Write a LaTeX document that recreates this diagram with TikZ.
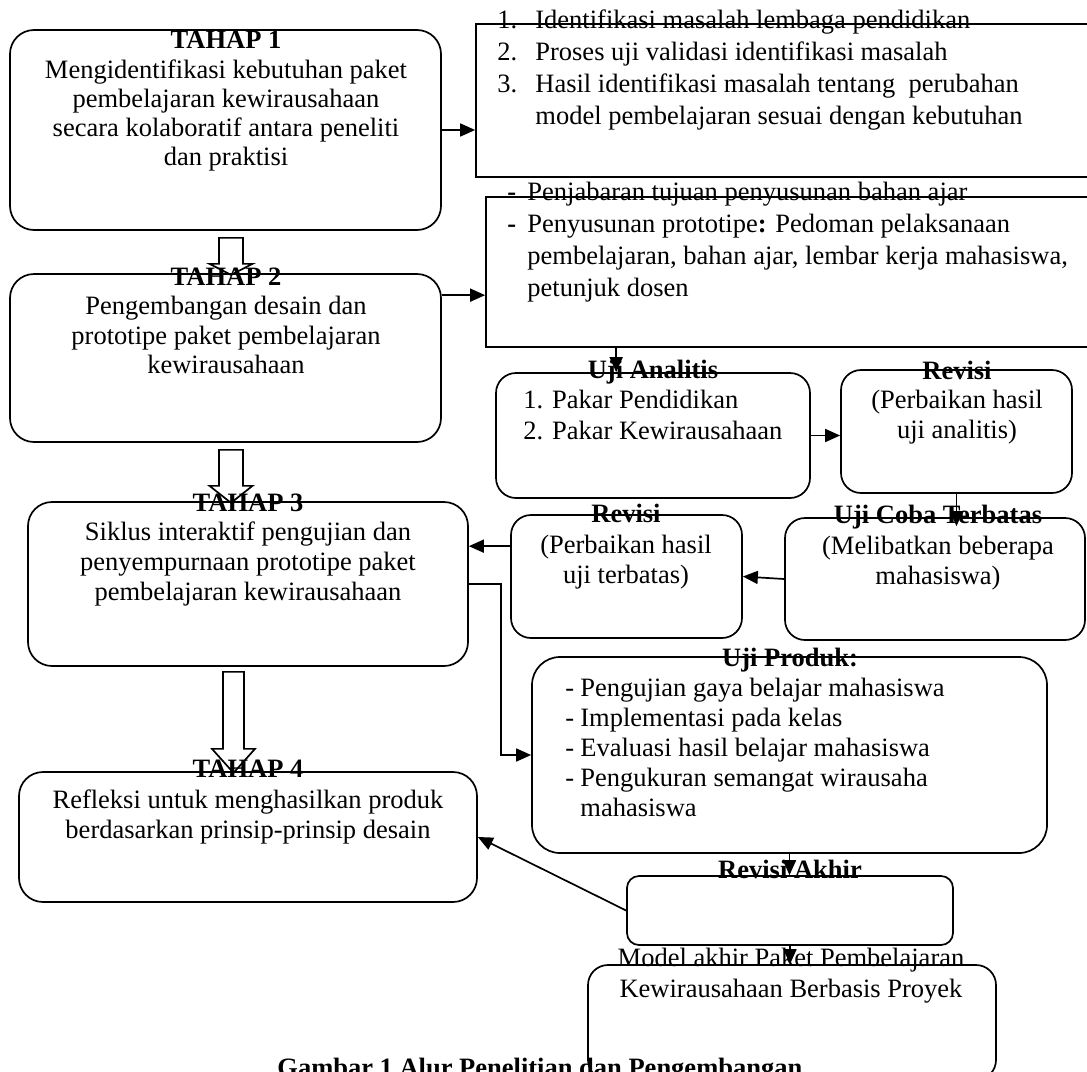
\documentclass[tikz,border=0pt]{standalone}
\usepackage{fontspec}
\setmainfont{Liberation Serif}
\usetikzlibrary{arrows.meta,calc,fit}
\begin{document}
\begin{tikzpicture}[x=0.5pt,y=-0.5pt,
  box/.style={draw, line width=0.85pt, inner sep=0pt, rounded corners=12pt},
  sbox/.style={draw, line width=0.85pt, inner sep=0pt},
  ttl/.style={font=\fontsize{13.25}{15}\selectfont\bfseries, inner sep=0pt},
  body/.style={font=\fontsize{13.25}{15}\selectfont, inner sep=0pt, align=center},
  lst/.style={font=\fontsize{13.25}{16}\selectfont, inner sep=0pt, align=left},
  arr/.style={line width=0.85pt, -{Triangle[length=7.5pt,width=6.5pt]}},
  blk/.style={line width=0.85pt}]
\useasboundingbox (0,0) rectangle (1087,1071);

% boxes
\node[box, fit={(10,30)(441,230)}] (t1) {};
\node[sbox, fit={(476,24)(1100,177)}] (b1) {};
\node[sbox, fit={(486,197)(1100,347)}] (b2) {};
\node[box, fit={(10,274)(441,442)}] (t2) {};
\node[box, rounded corners=10pt, fit={(496,373)(810,498)}] (ua) {};
\node[box, rounded corners=10pt, fit={(841,370)(1072,493)}] (r1) {};
\node[box, fit={(28,502)(468,666)}] (t3) {};
\node[box, rounded corners=10pt, fit={(511,515)(742,638)}] (r2) {};
\node[box, rounded corners=10pt, fit={(785,518)(1085,640)}] (uc) {};
\node[box, rounded corners=14pt, fit={(532,657)(1047,853)}] (up) {};
\node[box, fit={(19,772)(477,902)}] (t4) {};
\node[box, rounded corners=6pt, fit={(627,876)(953,945)}] (ra) {};
\node[box, rounded corners=10pt, fit={(588,965)(996,1080)}] (fin) {};

% block arrows
\draw[blk] ($(t1.south)+(-6.5,7)$) -- ++(0,26) -- ++(-9.5,0) -- ++(21.5,11) -- ++(21.5,-11) -- ++(-9.5,0) -- ++(0,-26) -- cycle;
\draw[blk] ($(t2.south)+(-6.5,7)$) -- ++(0,36) -- ++(-9.5,0) -- ++(21.5,17) -- ++(21.5,-17) -- ++(-9.5,0) -- ++(0,-36) -- cycle;
\draw[blk] ($(t3.south)+(-25,5)$) -- ++(0,77) -- ++(-11,0) -- ++(21.5,24) -- ++(21.5,-24) -- ++(-11,0) -- ++(0,-77) -- cycle;

% texts
\node[ttl] (ttl1) at (226,40) {TAHAP 1};
\node[body, anchor=north, font=\fontsize{13.25}{14.6}\selectfont] (txt1) at (226,59) {Mengidentifikasi kebutuhan paket\\pembelajaran kewirausahaan\\secara kolaboratif antara peneliti\\dan praktisi};
\node[lst, anchor=north west] (lst1) at (497,9) {\makebox[19pt][l]{1.}Identifikasi masalah lembaga pendidikan\\\makebox[19pt][l]{2.}Proses uji validasi identifikasi masalah\\\makebox[19pt][l]{3.}Hasil identifikasi masalah tentang\ \ perubahan\\\hspace*{19pt}model pembelajaran sesuai dengan kebutuhan};
\node[lst, anchor=north west] (lst2) at (507,182) {\makebox[10pt][l]{\textbf{-}}Penjabaran tujuan penyusunan bahan ajar\\\makebox[10pt][l]{\textbf{-}}Penyusunan prototipe\textbf{:} Pedoman pelaksanaan\\\hspace*{10pt}pembelajaran, bahan ajar, lembar kerja mahasiswa,\\\hspace*{10pt}petunjuk dosen};
\node[ttl] (ttl2) at (226,277) {TAHAP 2};
\node[body, anchor=north, font=\fontsize{13.25}{14.75}\selectfont] (txt2) at (226,296) {Pengembangan desain dan\\prototipe paket pembelajaran\\kewirausahaan};
\node[ttl] (ttlua) at (653,372) {Uji Analitis};
\node[lst, anchor=north west, font=\fontsize{13.25}{15.5}\selectfont] (lstua) at (523,390) {1. Pakar Pendidikan\\2. Pakar Kewirausahaan};
\node[ttl] (ttlr1) at (957,370) {Revisi};
\node[body, anchor=north] (txtr1) at (957,390) {(Perbaikan hasil\\uji analitis)};
\node[ttl] (ttl3) at (248,503) {TAHAP 3};
\node[body, anchor=north] (txt3) at (248,521) {Siklus interaktif pengujian dan\\penyempurnaan prototipe paket\\pembelajaran kewirausahaan};
\node[ttl] (ttlr2) at (626,513) {Revisi};
\node[body, anchor=north] (txtr2) at (626,535) {(Perbaikan hasil\\uji terbatas)};
\node[ttl] (ttluc) at (938,517) {Uji Coba Terbatas};
\node[body, anchor=north] (txtuc) at (938,536) {(Melibatkan beberapa\\mahasiswa)};
\node[ttl] (ttlup) at (790,660) {Uji Produk:};
\node[lst, anchor=north west, font=\fontsize{13.25}{15}\selectfont] (lstup) at (565,678) {\makebox[7.5pt][l]{-}Pengujian gaya belajar mahasiswa\\\makebox[7.5pt][l]{-}Implementasi pada kelas\\\makebox[7.5pt][l]{-}Evaluasi hasil belajar mahasiswa\\\makebox[7.5pt][l]{-}Pengukuran semangat wirausaha\\\hspace*{7.5pt}mahasiswa};
\node[ttl] (ttl4) at (248,769) {TAHAP 4};
\node[body, anchor=north] (txt4) at (248,789) {Refleksi untuk menghasilkan produk\\berdasarkan prinsip-prinsip desain};
\node[ttl] (ttlra) at (790,869) {Revisi Akhir};
\node[body, anchor=north, font=\fontsize{13.25}{15.5}\selectfont] (txtfin) at (791,948) {Model akhir Paket Pembelajaran\\Kewirausahaan Berbasis Proyek};
\node[ttl, anchor=base west] (cap) at (277,1076) {Gambar 1 Alur Penelitian dan Pengembangan};

% connectors
\coordinate (c2) at ($(t2.north east)+(0,22)$);
\coordinate (c3) at ($(b2.south west)+(131,0)$);
\coordinate (c4) at ($(uc.north)+(0,9)$);
\coordinate (c5) at ($(r2.north west)+(0,32)$);
\draw[arr] (t1.east) -- (t1.east -| b1.west);
\draw[arr] (c2) -- (c2 -| b2.west);
\draw[arr] (c3) -- (c3 |- ua.north);
\draw[arr] (ua.east) -- (ua.east -| r1.west);
\draw[arr] (r1.south) -- (r1.south |- c4);
\draw[arr] (uc.west) -- (r2.east);
\draw[arr] (c5) -- (c5 -| t3.east);
\draw[arr] (t3.east) -- ++(32,0) |- (up.west);
\draw[arr] (up.south) -- (up.south |- ra.north);
\draw[arr] (ra.west) -- (t4.east);
\draw[arr] (ra.south) -- (ra.south |- fin.north);
\end{tikzpicture}
\end{document}
